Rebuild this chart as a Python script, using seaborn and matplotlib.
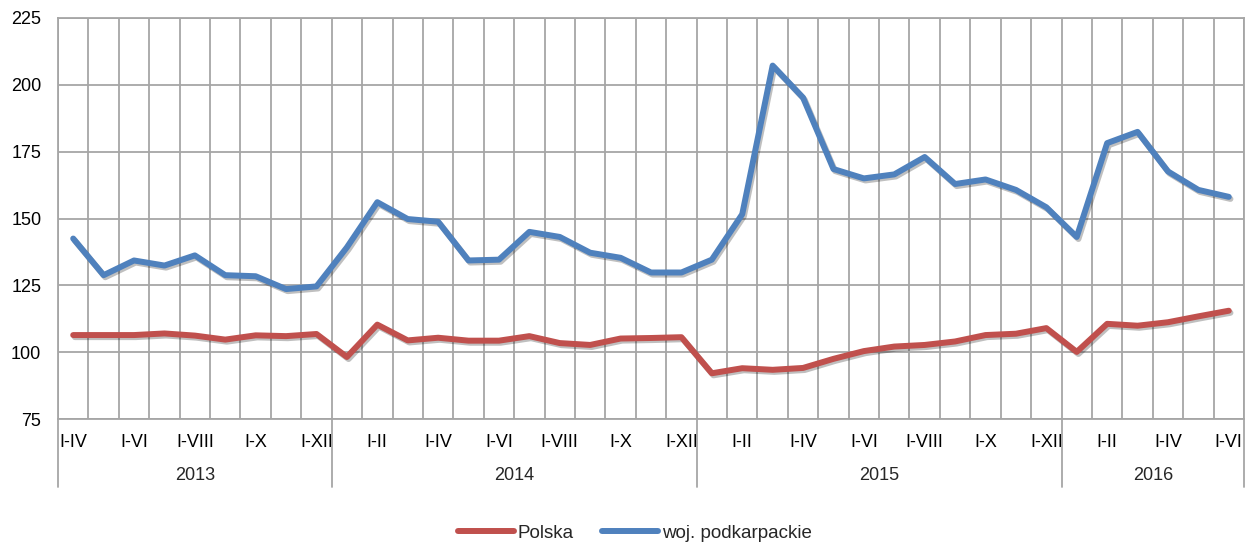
import matplotlib
matplotlib.use("Agg")
import matplotlib.pyplot as plt
import matplotlib.patheffects as pe
from matplotlib.lines import Line2D
import seaborn as sns
import pandas as pd
import numpy as np

# ---- data ----
years = ["2013", "2014", "2015", "2016"]
months_2013 = ["I-IV", "I-V", "I-VI", "I-VII", "I-VIII", "I-IX", "I-X", "I-XI", "I-XII"]
months_full = ["I", "I-II", "I-III", "I-IV", "I-V", "I-VI", "I-VII", "I-VIII",
               "I-IX", "I-X", "I-XI", "I-XII"]
months_2016 = ["I", "I-II", "I-III", "I-IV", "I-V", "I-VI"]
month_labels = months_2013 + months_full + months_full + months_2016
year_sizes = [len(months_2013), len(months_full), len(months_full), len(months_2016)]

polska = [106.4, 106.4, 106.4, 107.0, 106.2, 104.7, 106.3, 106.0, 106.8,
          98.2, 110.3, 104.4, 105.4, 104.3, 104.3, 106.0, 103.4, 102.7, 105.1,
          105.3, 105.6,
          92.1, 94.0, 93.4, 94.1, 97.5, 100.4, 102.1, 102.7, 104.0, 106.4,
          106.9, 109.0,
          100.1, 110.6, 109.9, 111.2, 113.4, 115.5]
podkarpackie = [142.5, 128.8, 134.3, 132.4, 136.2, 128.8, 128.4, 123.6, 124.6,
                139.2, 156.1, 149.8, 148.8, 134.3, 134.6, 145.0, 143.1, 137.2, 135.3,
                129.8, 129.8,
                134.6, 151.6, 207.2, 195.2, 168.5, 165.0, 166.5, 173.0, 162.9, 164.6,
                160.7, 154.2,
                143.1, 178.2, 182.4, 167.6, 160.7, 158.1]
series_names = ["Polska", "woj. podkarpackie"]
colors = ["#C0504D", "#4F81BD"]

n = len(month_labels)
df = pd.DataFrame({
    "idx": list(range(n)) * 2,
    "value": polska + podkarpackie,
    "series": [series_names[0]] * n + [series_names[1]] * n,
})

# ---- style ----
sns.set_style("white")
plt.rcParams["font.family"] = ["Liberation Sans", "DejaVu Sans"]
plt.rcParams["font.size"] = 13

fig = plt.figure(figsize=(12.45, 5.45), dpi=100)
ax = fig.add_axes([58 / 1245, 1 - 419 / 545, (1244 - 58) / 1245, (419 - 18) / 545])

grid_c = "#A6A6A6"
sns.lineplot(data=df, x="idx", y="value", hue="series", palette=colors,
             linewidth=4.3, ax=ax, legend=False, zorder=3)
for ln in ax.lines:
    ln.set_solid_capstyle("round")
    ln.set_solid_joinstyle("round")
    ln.set_path_effects([pe.SimpleLineShadow(offset=(1.2, -1.5), alpha=0.25),
                         pe.Normal()])

ax.set_xlim(-0.5, n - 0.5)
ax.set_ylim(75, 225)
ax.set_yticks(np.arange(75, 226, 25))
ax.set_xticks(range(n))
ax.set_xticklabels([lab if i % 2 == 0 else "" for i, lab in enumerate(month_labels)])
ax.set_xticks(np.arange(-0.5, n, 1.0), minor=True)
ax.tick_params(axis="both", which="both", length=0, labelsize=13, colors="black")
ax.tick_params(axis="x", pad=10.5)
ax.tick_params(axis="y", pad=12)
ax.grid(axis="y", which="major", color=grid_c, linewidth=1.3)
ax.grid(axis="x", which="minor", color=grid_c, linewidth=1.3)
ax.grid(axis="x", which="major", visible=False)
ax.set_axisbelow(True)
for s in ax.spines.values():
    s.set_color(grid_c)
    s.set_linewidth(1.3)
ax.set_xlabel("")
ax.set_ylabel("")

# multi-level category axis: year separators and year labels
trans = ax.get_xaxis_transform()
bounds = np.concatenate([[0], np.cumsum(year_sizes)]) - 0.5
for b in bounds:
    ax.plot([b, b], [0, -(487 - 419) / 401], color=grid_c, linewidth=1.3,
            transform=trans, clip_on=False)
for y, a, b in zip(years, bounds[:-1], bounds[1:]):
    ax.text((a + b) / 2, -(475 - 419) / 401, y, transform=trans,
            ha="center", va="center", fontsize=13)

handles = [Line2D([0], [0], color=c, linewidth=4.3, solid_capstyle="round") for c in colors]
fig.legend(handles, series_names, loc="center", bbox_to_anchor=(635 / 1245, 1 - 533 / 545),
           ncol=2, frameon=False, handlelength=3.0, handletextpad=0.2,
           columnspacing=1.5, fontsize=13.5, borderpad=0.1)

fig.savefig("out.png", dpi=100)
